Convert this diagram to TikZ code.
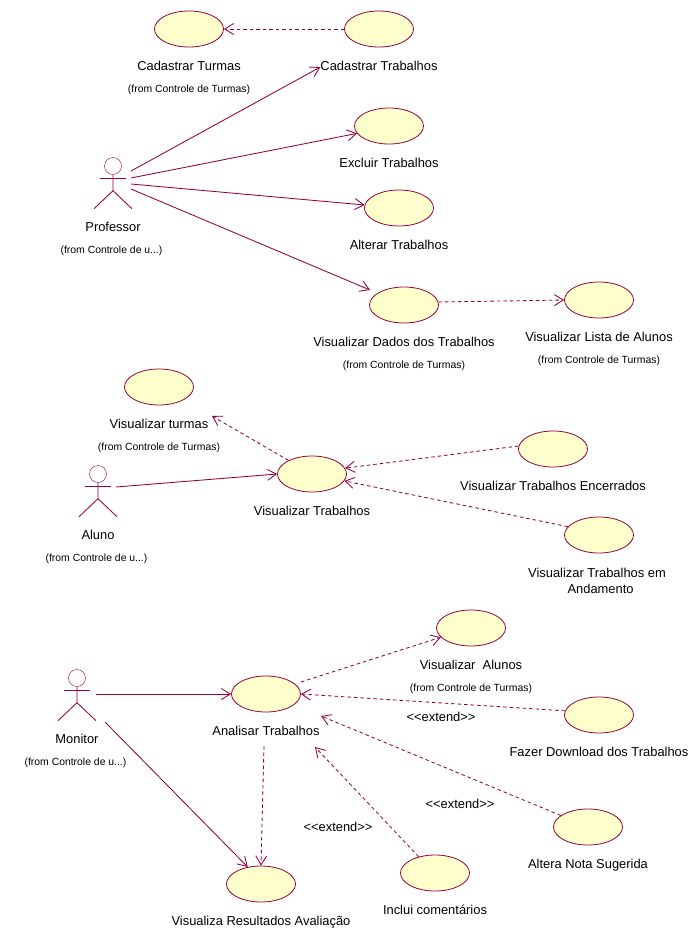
\documentclass[tikz,border=0pt]{standalone}
\usepackage{fontspec}
\setmainfont{Liberation Sans}
\usetikzlibrary{arrows.meta,positioning,shapes.geometric}
\definecolor{umlline}{RGB}{150,0,62}
\definecolor{umlfill}{RGB}{255,255,204}

\begin{document}
\begin{tikzpicture}[
  x=1pt, y=-1pt,
  usecase/.style={draw=umlline, thick, fill=umlfill, ellipse, minimum width=69pt, minimum height=36pt, inner sep=0pt},
  lbl/.style={font=\fontsize{12.9}{16}\selectfont, inner sep=0pt, text height=10pt, text depth=3pt, align=center, below=13pt of #1},
  frm/.style={font=\fontsize{10.4}{12}\selectfont, inner sep=0pt, text height=8pt, text depth=2pt, below=10.5pt of #1},
  stereo/.style={font=\fontsize{12.9}{16}\selectfont, inner sep=0pt},
  head/.style={draw=umlline, circle, minimum size=17pt, inner sep=0pt},
  arr/.style={draw=umlline, line width=0.85pt, -{Straight Barb[length=9pt,width=11pt]}},
  dep/.style={arr, dash pattern=on 3.5pt off 3pt}]
\useasboundingbox (0,0) rectangle (693,946);

% Professor
\node[usecase] (turmas) at (189,29) {};
\node[lbl=turmas] (turmasL) {Cadastrar Turmas};
\node[frm=turmasL] (turmasF) {(from Controle de Turmas)};
\node[usecase] (cadtrab) at (379,29) {};
\node[lbl=cadtrab] (cadtrabL) {Cadastrar Trabalhos};
\node[usecase] (excluir) at (389,126) {};
\node[lbl=excluir] (excluirL) {Excluir Trabalhos};
\node[usecase] (alterar) at (399,208) {};
\node[lbl=alterar] (alterarL) {Alterar Trabalhos};
\node[usecase] (dados) at (404,305) {};
\node[lbl=dados] (dadosL) {Visualizar Dados dos Trabalhos};
\node[frm=dadosL] (dadosF) {(from Controle de Turmas)};
\node[usecase] (lista) at (599,300) {};
\node[lbl=lista] (listaL) {Visualizar Lista de Alunos};
\node[frm=listaL] (listaF) {(from Controle de Turmas)};

% Aluno
\node[usecase] (vturmas) at (159,387) {};
\node[lbl=vturmas] (vturmasL) {Visualizar turmas};
\node[frm=vturmasL] (vturmasF) {(from Controle de Turmas)};
\node[usecase] (vtrab) at (312,474) {};
\node[lbl=vtrab] (vtrabL) {Visualizar Trabalhos};
\node[usecase] (encerr) at (553,449) {};
\node[lbl=encerr] (encerrL) {Visualizar Trabalhos Encerrados};
\node[usecase] (andam) at (599,535) {};
\node[lbl=andam, text height=, text depth=, below=15pt of andam, xshift=-2pt] (andamL) {Visualizar Trabalhos em\\ \ \ Andamento};

% Monitor
\node[usecase] (alunos) at (471,628) {};
\node[lbl=alunos] (alunosL) {Visualizar\ \ Alunos};
\node[frm=alunosL] (alunosF) {(from Controle de Turmas)};
\node[usecase] (analisar) at (266,694) {};
\node[lbl=analisar] (analisarL) {Analisar Trabalhos};
\node[usecase] (download) at (599,715) {};
\node[lbl=download] (downloadL) {Fazer Download dos Trabalhos};
\node[usecase] (nota) at (588,827) {};
\node[lbl=nota] (notaL) {Altera Nota Sugerida};
\node[usecase] (inclui) at (435,873) {};
\node[lbl=inclui] (incluiL) {Inclui comentários};
\node[usecase] (result) at (261,884) {};
\node[lbl=result] (resultL) {Visualiza Resultados Avaliação};
\node[stereo] (ext1) at (441,717) {<{}<extend>{}>};
\node[stereo] (ext2) at (460,804) {<{}<extend>{}>};
\node[stereo] (ext3) at (338,827) {<{}<extend>{}>};

% actors
\foreach \name/\x/\y/\txt in {prof/113/166/Professor, aluno/98/474/Aluno, monit/77/678/Monitor} {
  \node[head] (\name) at (\x,\y) {};
  \draw[umlline, line width=0.85pt] (\name.south) -- ++(0,16) coordinate (\name H) -- ++(-19,18);
  \draw[umlline, line width=0.85pt] (\name H) -- ++(19,18);
  \draw[umlline, line width=0.85pt] (\x-13,\y+12) -- (\x+13,\y+12);
  \node[lbl=\name, below=47pt of \name] (\name L) {\txt};
  \node[frm=\name L, xshift=-1.5pt] (\name F) {(from Controle de u...)};
}

% free ends
\coordinate (p1) at (131,171);
\coordinate (p2) at (131,178);
\coordinate (p3) at (131,184);
\coordinate (p4) at (131,189);
\coordinate (d1) at (370,290);
\coordinate (a1) at (116,487);
\coordinate (m1) at (96,694);
\coordinate (m2) at (105,722);
\coordinate (m3) at (301,682);
\coordinate (e1) at (212,416);
\coordinate (e2) at (321,716);
\coordinate (e3) at (315,747);
\coordinate (e4) at (264,746);

\draw[dep] (cadtrab) -- (turmas);
\draw[arr] (p1) -- (cadtrabL.west);
\draw[arr] (p2) -- (excluir.193);
\draw[arr] (p3) -- (alterar.175);
\draw[arr] (p4) -- (d1);
\draw[dep] (dados.5) -- (lista.west);
\draw[dep] (vtrab.150) -- (e1);
\draw[arr] (a1) -- (vtrab.west);
\draw[dep] (encerr.175) -- (vtrab.10);
\draw[dep] (andam.165) -- (vtrab.348);
\draw[arr] (m1) -- (analisar.west);
\draw[arr] (m2) -- (result.128);
\draw[dep] (m3) -- (alunos.197);
\draw[dep] (download.173) -- (analisar.east);
\draw[dep] (nota.157) -- (e2);
\draw[dep] (inclui.135) -- (e3);
\draw[dep] (e4) -- (result.north);
\end{tikzpicture}
\end{document}
